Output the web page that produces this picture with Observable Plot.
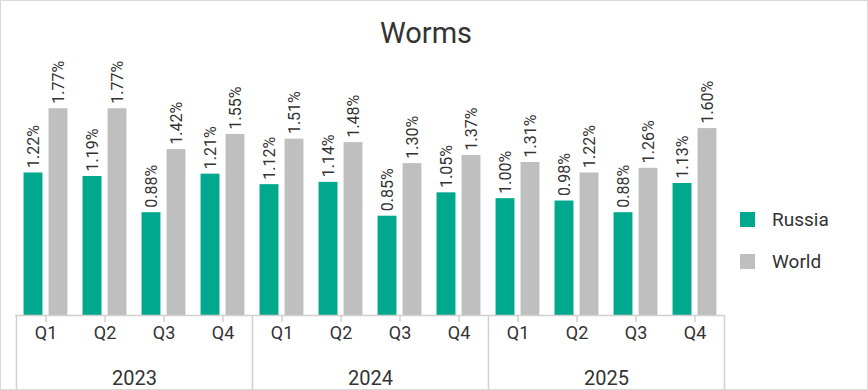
<!DOCTYPE html>
<html>
<head>
<meta charset="utf-8">
<script src="https://cdn.jsdelivr.net/npm/d3@7"></script>
<script src="https://cdn.jsdelivr.net/npm/@observablehq/plot@0.6"></script>
<style>
html, body { margin: 0; padding: 0; background: #fff; }
#frame { position: relative; width: 868px; height: 390px; box-sizing: border-box; border: 1px solid #d9d9d9; font-family: Roboto, "Noto Sans", sans-serif; color: #333; overflow: hidden; }
#title { position: absolute; left: 0; top: 0; width: 850px; text-align: center; font-size: 29px; line-height: 29px; padding-top: 18px; }
#chart { position: absolute; left: 0; top: 49px; }
.lg { position: absolute; display: flex; align-items: center; font-size: 19px; }
.sw { width: 15px; height: 15px; margin-right: 17px; }
</style>
</head>
<body>
<div id="frame">
  <div id="title">Worms</div>
  <div id="chart"></div>
  <div id="legend"></div>
</div>
<script>
const years = ["2023", "2024", "2025"];
const quarters = ["Q1", "Q2", "Q3", "Q4"];
const seriesNames = ["Russia", "World"];
const seriesColors = ["#00a88e", "#bfbfbf"];
const russia = [1.22, 1.19, 0.88, 1.21, 1.12, 1.14, 0.85, 1.05, 1.00, 0.98, 0.88, 1.13];
const world  = [1.77, 1.77, 1.42, 1.55, 1.51, 1.48, 1.30, 1.37, 1.31, 1.22, 1.26, 1.60];

const keys = years.flatMap(y => quarters.map(q => `${y} ${q}`));
const rows = keys.map((k, i) => ({key: k, year: k.slice(0, 4), quarter: k.slice(5), russia: russia[i], world: world[i]}));

const W = 866, H = 340, ML = 14, MR = 143, MT = 8, MB = 75;
const bw = (W - ML - MR) / keys.length;
const barW = 19, gap = 6;
const outer = (bw - 2 * barW - gap) / 2;
const off = (barW + gap) / 2;
const fmt = v => v.toFixed(2) + "%";
const axisColor = "#d0d0d0";
const textColor = "#333";

const chart = Plot.plot({
  width: W, height: H,
  marginLeft: ML, marginRight: MR, marginTop: MT, marginBottom: MB,
  x: {domain: keys, padding: 0, axis: null},
  y: {domain: [0, 2.2], axis: null},
  style: {fontFamily: "Roboto, 'Noto Sans', sans-serif", background: "transparent", overflow: "visible"},
  marks: [
    Plot.barY(rows, {x: "key", y: "russia", fill: seriesColors[0], insetLeft: outer, insetRight: outer + barW + gap}),
    Plot.barY(rows, {x: "key", y: "world", fill: seriesColors[1], insetLeft: outer + barW + gap, insetRight: outer}),
    Plot.text(rows, {x: "key", y: "russia", text: d => fmt(d.russia), rotate: -90, textAnchor: "start", lineAnchor: "middle", dx: -off, dy: -5, fontSize: 16, fill: textColor}),
    Plot.text(rows, {x: "key", y: "world", text: d => fmt(d.world), rotate: -90, textAnchor: "start", lineAnchor: "middle", dx: off, dy: -5, fontSize: 16, fill: textColor}),
    Plot.ruleY([0], {stroke: axisColor, strokeWidth: 1.5}),
    Plot.ruleX(keys, {x: d => d, y1: 0, y2: 0, insetBottom: -7, stroke: axisColor, strokeWidth: 1.5}),
    Plot.ruleX(years, {x: y => `${y} Q1`, y1: 0, y2: 0, insetBottom: -76, dx: -bw / 2, stroke: axisColor, strokeWidth: 1.5}),
    Plot.ruleX([years[years.length - 1]], {x: y => `${y} Q4`, y1: 0, y2: 0, insetBottom: -76, dx: bw / 2, stroke: axisColor, strokeWidth: 1.5}),
    Plot.text(rows, {x: "key", y: 0, text: "quarter", dy: 18, lineAnchor: "middle", fontSize: 18, fill: textColor}),
    Plot.text(years, {x: y => `${y} Q2`, y: 0, text: d => d, dx: bw / 2, dy: 63, lineAnchor: "middle", fontSize: 20, fill: textColor})
  ]
});
document.getElementById("chart").appendChild(chart);

const legend = document.getElementById("legend");
seriesNames.forEach((name, i) => {
  const item = document.createElement("div");
  item.className = "lg";
  item.style.left = "739px";
  item.style.top = (207 + i * 42) + "px";
  item.innerHTML = `<div class="sw" style="background:${seriesColors[i]}"></div><span>${name}</span>`;
  legend.appendChild(item);
});
</script>
</body>
</html>
